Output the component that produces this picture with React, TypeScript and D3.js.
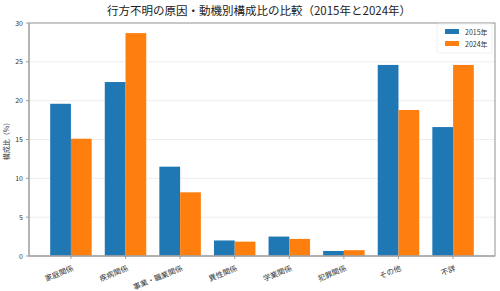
import React from "react";
import * as d3 from "d3";

const categories = ["家庭関係", "疾病関係", "事業・職業関係", "異性関係", "学業関係", "犯罪関係", "その他", "不詳"];
const values2015 = [19.6, 22.4, 11.5, 2.0, 2.5, 0.65, 24.6, 16.6];
const values2024 = [15.1, 28.7, 8.2, 1.85, 2.2, 0.75, 18.8, 24.6];
const seriesNames = ["2015年", "2024年"];
const yTicks = [0, 5, 10, 15, 20, 25, 30];

const W = 500, H = 291;
const left = 29, right = 495, top = 23, bottom = 256;
const font = "'Noto Sans CJK JP', 'Noto Sans', sans-serif";
const colors = ["#1f77b4", "#ff7f0e"];
const bw = 0.38;

export default function App() {
  const x = d3.scaleLinear().domain([-0.768, categories.length - 1 + 0.768]).range([left, right]);
  const y = d3.scaleLinear().domain([0, 30]).range([bottom, top]);
  const series = [values2015, values2024];
  return (
    <svg width={W} height={H} style={{ position: "absolute", left: 0, top: 0, background: "#fff" }} fontFamily={font}>
      <text x={(left + right) / 2 - 3} y={15} textAnchor="middle" fontSize={11.5} fill="#222">
        行方不明の原因・動機別構成比の比較（2015年と2024年）
      </text>
      {yTicks.map((t) => (
        <g key={t}>
          {t > 0 && t < 30 && <line x1={left} x2={right} y1={y(t)} y2={y(t)} stroke="#e8e8e8" strokeWidth={0.8} />}
          <line x1={left - 3} x2={left} y1={y(t)} y2={y(t)} stroke="#888" strokeWidth={0.8} />
          <text x={left - 6} y={y(t) + 2.5} textAnchor="end" fontSize={7} fill="#333">{t}</text>
        </g>
      ))}
      {series.map((vals, si) =>
        vals.map((v, i) => {
          const x0 = si === 0 ? x(i - bw) : x(i);
          return (
            <rect key={`${si}-${i}`} x={x0} y={y(v)} width={x(i + bw) - x(i)} height={y(0) - y(v)} fill={colors[si]} />
          );
        })
      )}
      <rect x={left} y={top} width={right - left} height={bottom - top} fill="none" stroke="#777" strokeWidth={0.8} />
      <line x1={left} x2={left} y1={top} y2={bottom} stroke="#aaa" strokeWidth={1.3} />
      <line x1={left} x2={right} y1={bottom} y2={bottom} stroke="#aaa" strokeWidth={1.3} />
      {categories.map((c, i) => (
        <g key={c}>
          <line x1={x(i)} x2={x(i)} y1={bottom} y2={bottom + 3} stroke="#888" strokeWidth={0.8} />
          <text
            transform={`translate(${x(i) + 1},${bottom + 9}) rotate(-22)`}
            textAnchor="end"
            dy="0.75em"
            fontSize={7.5}
            fill="#333"
          >
            {c}
          </text>
        </g>
      ))}
      <text transform={`translate(9,${(top + bottom) / 2}) rotate(-90)`} textAnchor="middle" fontSize={7} fill="#333">
        構成比（%）
      </text>
      <g>
        <rect x={437} y={24} width={55} height={29} fill="#fff" fillOpacity={0.8} stroke="#eeeeee" strokeWidth={0.8} rx={2} />
        {seriesNames.map((s, i) => (
          <g key={s}>
            <rect x={445} y={29 + i * 12} width={14} height={5} fill={colors[i]} />
            <text x={465} y={34.5 + i * 12} fontSize={7} fill="#333">{s}</text>
          </g>
        ))}
      </g>
    </svg>
  );
}
